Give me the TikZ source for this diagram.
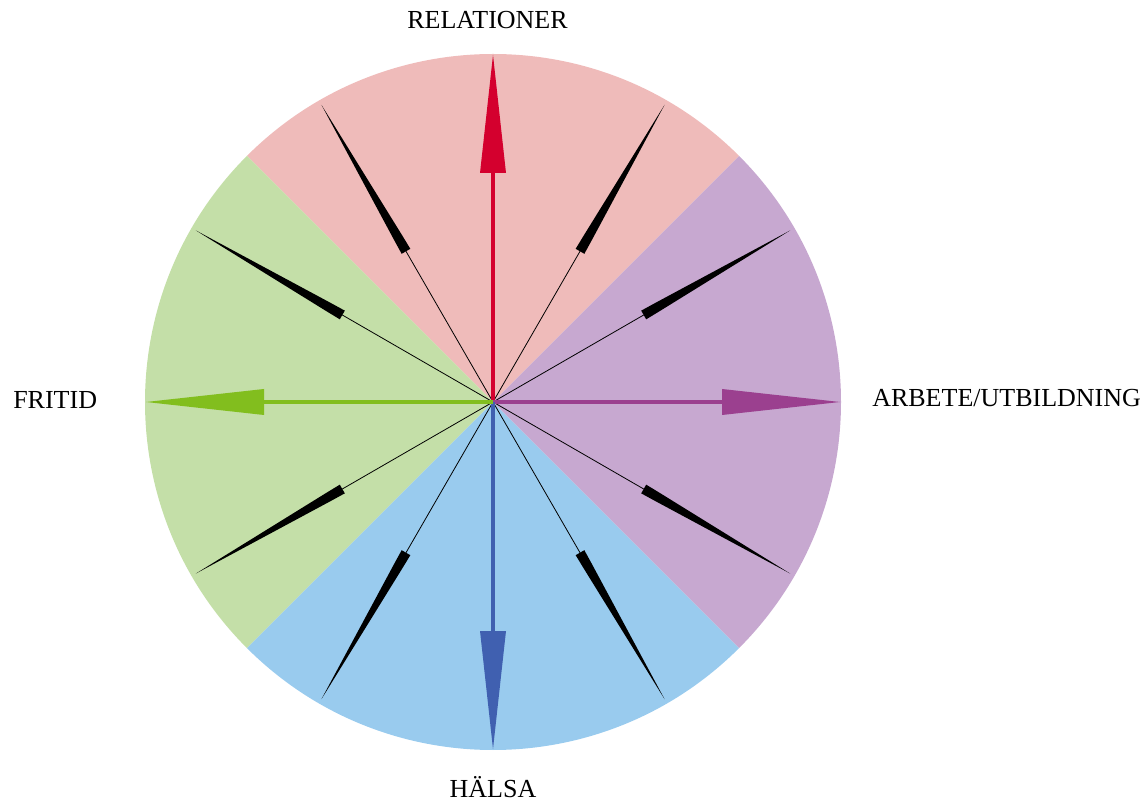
\documentclass[tikz,border=0pt]{standalone}
\usepackage{fontspec}
\setmainfont{Liberation Serif}
\definecolor{secpink}{RGB}{239,187,186}
\definecolor{secpurple}{RGB}{199,168,208}
\definecolor{secblue}{RGB}{153,203,238}
\definecolor{secgreen}{RGB}{196,223,168}
\definecolor{arred}{RGB}{212,0,46}
\definecolor{arpurple}{RGB}{155,64,143}
\definecolor{arblue}{RGB}{64,96,176}
\definecolor{argreen}{RGB}{130,190,30}
\tikzset{
  label/.style={inner sep=0pt, font=\fontsize{19.5}{22}\selectfont},
  thinline/.style={draw=black, line width=0.6pt},
}
\newcommand{\needle}[1]{%
  \begin{scope}[shift={(O)}, rotate=#1]
    \draw[thinline] (0,0) -- (176,0);
    \fill[black] (174,-5) -- (174,5) -- (188,4.7) -- (343,0) -- (188,-4.7) -- cycle;
  \end{scope}}
\newcommand{\mainarrow}[2]{%
  \begin{scope}[shift={(O)}, rotate=#1]
    \draw[#2, line width=2.6pt] (0,0) -- (231,0);
    \fill[#2] (229,-13) -- (229,13) -- (347,0) -- cycle;
  \end{scope}}
\begin{document}
\begin{tikzpicture}[x=0.75pt,y=0.75pt]
\useasboundingbox (0,0) rectangle (1146,804);
\coordinate (O) at (493,402);
% sectors
\fill[secpink]   (O) -- ++(45:348)  arc[start angle=45,  end angle=135, radius=348] -- cycle;
\fill[secgreen]  (O) -- ++(135:348) arc[start angle=135, end angle=225, radius=348] -- cycle;
\fill[secblue]   (O) -- ++(225:348) arc[start angle=225, end angle=315, radius=348] -- cycle;
\fill[secpurple] (O) -- ++(315:348) arc[start angle=315, end angle=405, radius=348] -- cycle;
% needles
\needle{30}\needle{60}\needle{120}\needle{150}
\needle{210}\needle{240}\needle{300}\needle{330}
% main arrows
\mainarrow{90}{arred}
\mainarrow{0}{arpurple}
\mainarrow{270}{arblue}
\mainarrow{180}{argreen}
% labels
\node[label, anchor=base] (rel) at (487.5,775) {RELATIONER};
\node[label, anchor=base west] (arb) at (872,397) {ARBETE/UTBILDNING};
\node[label, anchor=base west] (fri) at (13,395) {FRITID};
\node[label, anchor=base] (hal) at (493,7) {HÄLSA};
\end{tikzpicture}
\end{document}
